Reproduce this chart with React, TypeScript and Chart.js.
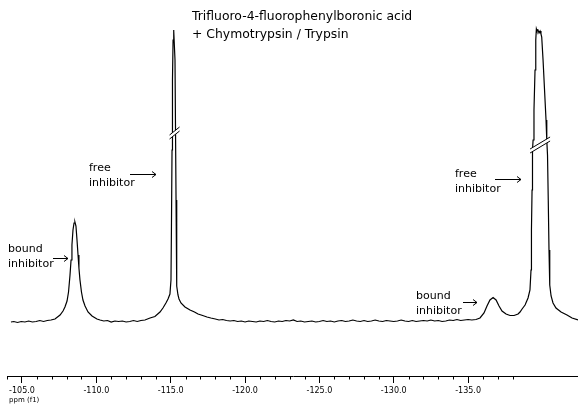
import { useEffect, useRef } from "react";
import { Chart, registerables } from "chart.js";

Chart.register(...registerables);

// Chemical shift (ppm) of each sampled point of the 19F spectrum
const ppmValues = [
  // left baseline
  -104.26, -104.45, -104.7, -104.95, -105.2, -105.45, -105.7, -105.95, -106.2, -106.45, -106.7, -106.95, -107.22,
  // bound inhibitor (left)
  -107.56, -107.76, -107.89, -108.03, -108.13, -108.23, -108.3, -108.36, -108.43, -108.5, -108.56, -108.63, -108.7,
  -108.77, -108.83, -108.9, -109.0, -109.1, -109.24, -109.44, -109.71,
  // baseline
  -110.04, -110.25, -110.5, -110.75, -111.0, -111.25, -111.5, -111.75, -112.0, -112.25, -112.5, -112.75, -113.0, -113.27,
  // free inhibitor (left)
  -113.61, -113.94, -114.28, -114.48, -114.68, -114.82, -114.95, -115.02, -115.05, -115.09, -115.12, -115.16, -115.19,
  -115.22, -115.29, -115.32, -115.36, -115.39, -115.42, -115.49, -115.56, -115.69, -115.96, -116.3, -116.6, -116.84,
  -117.15, -117.44, -117.7,
  // long baseline
  -118, -118.25, -118.5, -118.75, -119, -119.25, -119.5, -119.75, -120, -120.25,
  -120.5, -120.75, -121, -121.25, -121.5, -121.75, -122, -122.25, -122.5, -122.75,
  -123, -123.25, -123.5, -123.75, -124, -124.25, -124.5, -124.75, -125, -125.25,
  -125.5, -125.75, -126, -126.25, -126.5, -126.75, -127, -127.25, -127.5, -127.75,
  -128, -128.25, -128.5, -128.75, -129, -129.25, -129.5, -129.75, -130, -130.25,
  -130.5, -130.75, -131, -131.25, -131.5, -131.75, -132, -132.25, -132.5, -132.75,
  -133, -133.25, -133.5, -133.75, -134, -134.25, -134.5, -134.75, -135, -135.25,
  // bound inhibitor (right) + free inhibitor (right)
  -135.53, -135.8, -136.07, -136.27, -136.47, -136.68, -136.88, -137.08, -137.28, -137.55,
  -137.82, -138.09, -138.36, -138.49, -138.63, -138.83, -139.03, -139.16, -139.23, -139.26,
  -139.3, -139.33, -139.37, -139.43, -139.5, -139.55, -139.59, -139.63, -139.7, -139.77,
  -139.84, -139.9, -139.95, -140.04, -140.14, -140.24, -140.29, -140.34, -140.39, -140.44,
  -140.49, -140.58, -140.71, -140.91, -141.25, -141.65, -141.99, -142.39,
];

// Signal intensity (arbitrary units) at each point
const intensity = [
  0, 0.5, -0.5, 0.5, 0, 1, 0, 0.5, 1.5, 0.5, 1.5, 2, 3,
  7, 11, 15, 21, 30, 47, 62, 77, 92, 99, 100, 96, 82,
  67, 54, 42, 30, 22, 16, 10, 6,
  3, 2, 1, 1.5, 0, 1, 0.5, 1, 0, 0.5, 1.5, 0.5, 1.5, 2,
  4, 5.5, 10, 14, 19, 23, 28, 42, 92, 172, 242, 282, 292,
  291, 262, 202, 122, 62, 36, 27, 23, 19, 15, 12, 10, 8,
  6.5, 5, 4,
  3, 2, 2.5, 1.5, 1, 1.5, 0.5, 1, 0, 1,
  0.5, 0, 1, 0.5, 1.5, 0.5, 0, 1, 0.5, 1.5,
  1, 2, 0.5, 1, 0, 0.5, 1, 0, 0.5, 1.5,
  0.5, 1, 0, 1, 1.5, 0.5, 1, 2, 1, 0.5,
  1.5, 0.5, 1, 2, 1, 0.5, 1.5, 1, 0.5, 1,
  2, 1, 0.5, 1.5, 0.5, 1, 1.5, 1, 2, 1,
  1.5, 0.5, 1, 2, 1.5, 2.5, 1.5, 2, 2.5, 2,
  2.5, 4, 9, 16, 22, 24.5, 22, 16, 11, 8,
  6.5, 6.5, 8, 10, 13, 17, 24, 32, 52, 92,
  132, 172, 182, 212, 252, 282, 293, 291, 292, 289,
  291, 288, 285, 262, 232, 202, 182, 167, 122, 72,
  37, 26, 19, 14, 10, 7, 4, 2,
];

const majorTicks = [-105, -110, -115, -120, -125, -130, -135];
const minorTicks = [
  -104, -106, -107, -108, -109, -111, -112, -113, -114, -116, -117, -118, -119,
  -121, -122, -123, -124, -126, -127, -128, -129, -131, -132, -133, -134, -136, -137, -138,
];

const titleLines = ["Trifluoro-4-fluorophenylboronic acid", "+ Chymotrypsin / Trypsin"];
const axisTitle = "ppm (f1)";

// Peak positions (ppm, intensity) where the "//" break marks sit
const breakPpm = [-115.26, -139.84];
const breakLevel = [189, 177];

const freeLines = ["free", "inhibitor"];
const boundLines = ["bound", "inhibitor"];

export default function App() {
  const ref = useRef<HTMLCanvasElement | null>(null);

  useEffect(() => {
    const canvas = ref.current;
    if (!canvas) return;

    const decorations = {
      id: "decorations",
      afterDraw(chart: any) {
        const ctx = chart.ctx as CanvasRenderingContext2D;
        const xs = chart.scales.x;
        const ys = chart.scales.y;
        ctx.save();

        // minor ticks
        ctx.strokeStyle = "#000";
        ctx.lineWidth = 1;
        const axisY = chart.chartArea.bottom;
        minorTicks.forEach((t) => {
          const px = Math.round(xs.getPixelForValue(t)) + 0.5;
          ctx.beginPath();
          ctx.moveTo(px, axisY);
          ctx.lineTo(px, axisY + 3.5);
          ctx.stroke();
        });

        // break marks
        const shapes = [
          { hw: 5, rise: 8, gap: 4 },
          { hw: 10, rise: 12, gap: 4 },
        ];
        breakPpm.forEach((p, i) => {
          const cx = xs.getPixelForValue(p);
          const cy = ys.getPixelForValue(breakLevel[i]);
          const { hw, rise, gap } = shapes[i];
          const x1 = cx - hw;
          const x2 = cx + hw;
          const yL = cy + rise / 2;
          const yR = cy - rise / 2;
          ctx.fillStyle = "#fff";
          ctx.beginPath();
          ctx.moveTo(x1, yL + gap / 2);
          ctx.lineTo(x2, yR + gap / 2);
          ctx.lineTo(x2, yR - gap / 2);
          ctx.lineTo(x1, yL - gap / 2);
          ctx.closePath();
          ctx.fill();
          ctx.strokeStyle = "#000";
          ctx.lineWidth = 1;
          ctx.beginPath();
          ctx.moveTo(x1, yL + gap / 2);
          ctx.lineTo(x2, yR + gap / 2);
          ctx.moveTo(x1, yL - gap / 2);
          ctx.lineTo(x2, yR - gap / 2);
          ctx.stroke();
        });

        // texts
        ctx.fillStyle = "#000";
        ctx.textAlign = "left";
        ctx.textBaseline = "alphabetic";
        ctx.font = "12.4px 'DejaVu Sans'";
        ctx.fillText(titleLines[0], 192, 20);
        ctx.fillText(titleLines[1], 192, 38);

        ctx.font = "11px 'DejaVu Sans'";
        const label = (lines: string[], x: number, y: number) => {
          ctx.fillText(lines[0], x, y);
          ctx.fillText(lines[1], x, y + 15);
        };
        label(boundLines, 8, 252);
        label(freeLines, 89, 171);
        label(freeLines, 455, 177);
        label(boundLines, 416, 299);

        const arrow = (xa: number, xb: number, y: number) => {
          ctx.strokeStyle = "#000";
          ctx.lineWidth = 1;
          ctx.beginPath();
          ctx.moveTo(xa, y + 0.5);
          ctx.lineTo(xb, y + 0.5);
          ctx.moveTo(xb - 4, y - 2.5);
          ctx.lineTo(xb, y + 0.5);
          ctx.lineTo(xb - 4, y + 3.5);
          ctx.stroke();
        };
        arrow(53, 68, 258);
        arrow(130, 156, 174);
        arrow(495, 521, 179);
        arrow(463, 477, 302);

        ctx.font = "7px 'DejaVu Sans'";
        ctx.fillText(axisTitle, 9, 402);
        ctx.restore();
      },
    };

    const chart = new Chart(canvas, {
      type: "line",
      data: {
        datasets: [
          {
            data: ppmValues.map((x, i) => ({ x, y: intensity[i] })),
            borderColor: "#000",
            borderWidth: 1.2,
            pointRadius: 0,
            tension: 0,
            fill: false,
          },
        ],
      },
      options: {
        animation: false,
        responsive: false,
        layout: { padding: { left: 8, right: 0, top: 0, bottom: 0 } },
        plugins: { legend: { display: false }, tooltip: { enabled: false } },
        scales: {
          x: {
            type: "linear",
            reverse: true,
            min: -142.39,
            max: -104.06,
            afterBuildTicks: (scale: any) => {
              scale.ticks = majorTicks.map((value) => ({ value }));
            },
            afterFit: (scale: any) => {
              scale.height = 28;
            },
            grid: {
              display: true,
              drawOnChartArea: false,
              drawTicks: true,
              tickLength: 7,
              color: "#000",
              tickColor: "#000",
            },
            border: { display: true, color: "#000", width: 1 },
            ticks: {
              color: "#000",
              font: { family: "'DejaVu Sans'", size: 8 },
              padding: 3,
              maxRotation: 0,
              autoSkip: false,
              callback: (v: any) => Number(v).toFixed(1),
            },
          },
          y: {
            type: "linear",
            display: false,
            min: -54,
            max: 322,
          },
        },
      },
      plugins: [decorations],
    });

    return () => chart.destroy();
  }, []);

  return (
    <div style={{ position: "fixed", left: 0, top: 0, width: 578, height: 404, background: "#fff" }}>
      <canvas ref={ref} width={578} height={404} style={{ display: "block" }} />
    </div>
  );
}
